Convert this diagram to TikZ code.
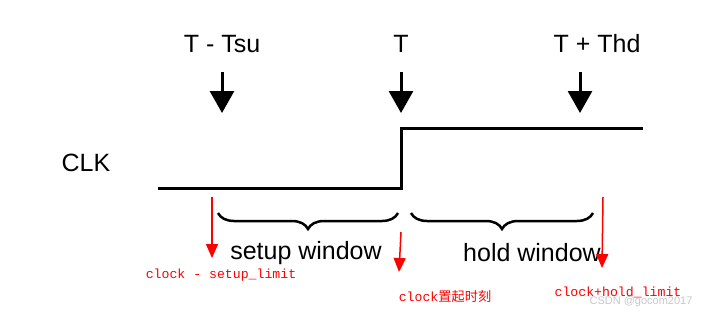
\documentclass[tikz,border=0pt]{standalone}
\usepackage{fontspec}
\setmainfont{Liberation Sans}
\newfontfamily\redmono{Liberation Mono}
\newfontfamily\cjk{Noto Sans CJK SC}
\usepackage{tikz}
\usetikzlibrary{positioning,arrows.meta,decorations.pathreplacing}
\tikzset{
  timelabel/.style={font=\fontsize{25}{28}\selectfont, inner sep=0pt},
  bigarrow/.style={-{Triangle[width=24pt,length=22pt]}, line width=3pt},
  redarrow/.style={-{Triangle[width=12pt,length=14pt]}, red, line width=1.5pt},
  redlabel/.style={text=red, font=\fontsize{13.2}{15}\redmono, inner sep=0pt},
  window/.style={decorate, decoration={brace,mirror,amplitude=16pt,aspect=0.5}, line width=2.5pt},
}

\begin{document}
\begin{tikzpicture}[x=1pt,y=1pt]
\useasboundingbox (0,0) rectangle (714,314);

% time points
\node[timelabel] (tsu) at (222,270) {T - Tsu};
\node[timelabel] (t) at (401,270) {T};
\node[timelabel] (thd) at (597,270) {T + Thd};

\coordinate (a1) at (222,242);
\coordinate (a2) at (401,242);
\coordinate (a3) at (580,242);
\draw[bigarrow] (a1) -- ++(0,-41);
\draw[bigarrow] (a2) -- ++(0,-41);
\draw[bigarrow] (a3) -- ++(0,-41);

% clock signal
\node[timelabel] (clk) at (86,151) {CLK};
\coordinate (lo) at (158,126);
\coordinate (edge) at (401,126);
\coordinate (hi) at (643,186);
\draw[line width=3pt] (lo) -- (edge) |- (hi);

% windows
\draw[window] (218,101) -- (398,101);
\draw[window] (411,101) -- (593,101);
\node[timelabel] (setup) at (306,61) {setup window};
\node[timelabel] (hold) at (532,61) {hold window};

% red notes
\node[redlabel] (slimit) at (221,39) {clock - setup\_limit};
\node[redlabel] (clkedge) at (445,18) {clock{\cjk 置起时刻}};
\node[redlabel] (hlimit) at (618,22) {clock+hold\_limit};
\draw[redarrow] (212,117) -- (212,56);
\draw[redarrow] (401,82) -- (399,42);
\draw[redarrow] (603,117) -- (602,46);

\node[text=black!22, font=\fontsize{11}{13}\selectfont, inner sep=0pt] (mark) at (641,12) {CSDN @gocom2017};
\end{tikzpicture}
\end{document}
